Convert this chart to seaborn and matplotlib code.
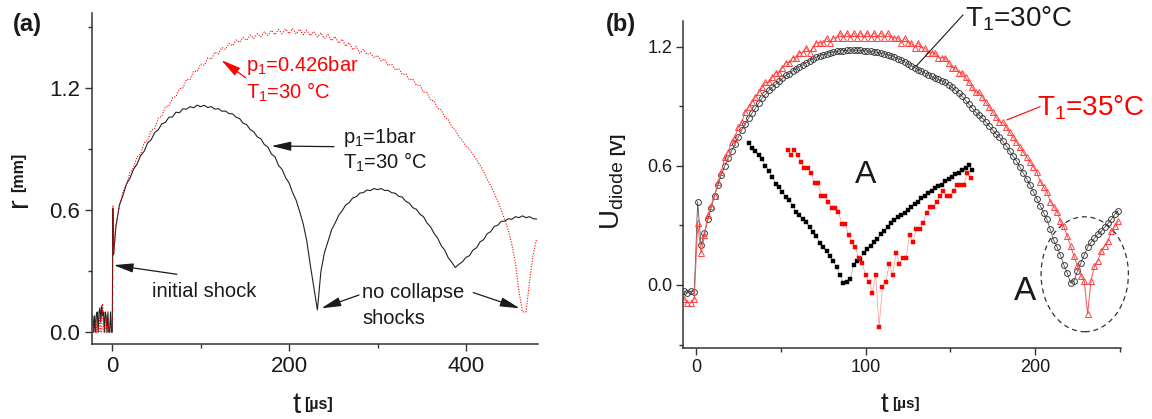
import numpy as np
import matplotlib
matplotlib.use("Agg")
import matplotlib.pyplot as plt
import seaborn as sns
from matplotlib.patches import Ellipse
from matplotlib.ticker import FormatStrFormatter

# ---------------------------------------------------------------- data
# (a) bubble radius r [mm] versus time t [us]
A_PRE_T = np.arange(-22, 0, 1.0)            # pre-trigger samples
A_PRE_BLACK = [0.08, 0.0, 0.08, 0.0, 0.09, 0.1, 0.0, 0.1, 0.12, 0.05, 0.13,
               0.08, 0.1, 0.0, 0.1, 0.08, 0.0, 0.1, 0.0, 0.0, 0.1, 0.0]
A_PRE_RED = [0.07, 0.0, 0.0, 0.05, 0.0, 0.06, 0.0, 0.0, 0.09, 0.0, 0.0,
             0.14, 0.06, 0.0, 0.0, 0.07, 0.0, 0.0, 0.05, 0.0, 0.0, 0.0]
A_SHOCK_T_BLACK = [0.0, 0.6, 1.5]
A_SHOCK_BLACK = [0.0, 0.61, 0.38]
A_SHOCK_T_RED = [0.2, 0.8, 1.6]
A_SHOCK_RED = [0.10, 0.62, 0.40]
A_T = np.arange(4, 481, 4.0)
A_BLACK = [
    0.515, 0.625, 0.672, 0.728, 0.757, 0.801, 0.826, 0.868, 0.889, 0.93,
    0.946, 0.981, 0.995, 1.024, 1.031, 1.056, 1.058, 1.081, 1.079, 1.098,
    1.096, 1.108, 1.103, 1.116, 1.108, 1.115, 1.104, 1.109, 1.096, 1.099,
    1.086, 1.087, 1.074, 1.073, 1.057, 1.05, 1.027, 1.02, 0.996, 0.985,
    0.96, 0.951, 0.922, 0.91, 0.876, 0.862, 0.82, 0.80, 0.76, 0.733,
    0.686, 0.648, 0.592, 0.532, 0.448, 0.33, 0.22, 0.11, 0.30, 0.392,
    0.446, 0.503, 0.536, 0.574, 0.597, 0.625, 0.637, 0.66, 0.666, 0.684,
    0.686, 0.699, 0.696, 0.706, 0.701, 0.706, 0.697, 0.697, 0.686, 0.683,
    0.668, 0.664, 0.643, 0.634, 0.612, 0.604, 0.58, 0.568, 0.537, 0.518,
    0.486, 0.463, 0.426, 0.404, 0.366, 0.344, 0.318, 0.334, 0.346, 0.368,
    0.376, 0.404, 0.415, 0.444, 0.455, 0.484, 0.494, 0.52, 0.526, 0.545,
    0.546, 0.558, 0.555, 0.568, 0.563, 0.572, 0.563, 0.568, 0.558, 0.556,
]
A_RED = [
    0.53, 0.615, 0.69, 0.725, 0.785, 0.808, 0.862, 0.876, 0.931, 0.942,
    0.992, 1.0, 1.052, 1.061, 1.108, 1.112, 1.152, 1.158, 1.196, 1.201,
    1.243, 1.241, 1.283, 1.281, 1.318, 1.312, 1.347, 1.341, 1.376, 1.368,
    1.399, 1.39, 1.42, 1.408, 1.436, 1.425, 1.449, 1.434, 1.46, 1.443,
    1.467, 1.451, 1.476, 1.458, 1.483, 1.462, 1.488, 1.466, 1.49, 1.467,
    1.492, 1.465, 1.489, 1.462, 1.484, 1.457, 1.478, 1.45, 1.471, 1.443,
    1.463, 1.432, 1.453, 1.42, 1.44, 1.405, 1.423, 1.388, 1.405, 1.37,
    1.39, 1.365, 1.372, 1.35, 1.36, 1.333, 1.342, 1.31, 1.317, 1.289,
    1.296, 1.266, 1.27, 1.24, 1.244, 1.213, 1.215, 1.18, 1.177, 1.14,
    1.137, 1.1, 1.093, 1.058, 1.046, 1.01, 0.994, 0.96, 0.942, 0.915,
    0.9, 0.875, 0.848, 0.82, 0.79, 0.752, 0.72, 0.684, 0.645, 0.60,
    0.552, 0.5, 0.43, 0.34, 0.2, 0.1, 0.1, 0.25, 0.38, 0.46,
]

# (b) photodiode signal U_diode [V] versus time t [us]
B_T = np.arange(-7, 250, 2.0)
B_30C = [
    -0.03, -0.04, -0.03, -0.035, 0.42, 0.20, 0.26, 0.33, 0.39, 0.45,
    0.505, 0.555, 0.60, 0.64, 0.675, 0.71, 0.745, 0.78, 0.81, 0.84,
    0.865, 0.89, 0.915, 0.94, 0.96, 0.98, 0.995, 1.01, 1.025, 1.04,
    1.055, 1.065, 1.078, 1.09, 1.10, 1.11, 1.12, 1.13, 1.14, 1.148,
    1.155, 1.16, 1.165, 1.17, 1.173, 1.176, 1.178, 1.18, 1.182, 1.183,
    1.183, 1.182, 1.181, 1.18, 1.178, 1.176, 1.174, 1.171, 1.168, 1.164,
    1.16, 1.155, 1.148, 1.14, 1.133, 1.125, 1.115, 1.105, 1.095, 1.085,
    1.077, 1.068, 1.06, 1.05, 1.042, 1.035, 1.028, 1.02, 1.008, 0.995,
    0.98, 0.965, 0.95, 0.93, 0.91, 0.89, 0.87, 0.855, 0.84, 0.82,
    0.80, 0.78, 0.76, 0.745, 0.725, 0.70, 0.675, 0.65, 0.625, 0.595,
    0.565, 0.535, 0.505, 0.47, 0.435, 0.40, 0.365, 0.33, 0.28, 0.225,
    0.19, 0.15, 0.10, 0.06, 0.01, 0.02, 0.07, 0.11, 0.15, 0.19,
    0.215, 0.235, 0.255, 0.27, 0.29, 0.31, 0.33, 0.355, 0.375,
]
B_35C = [
    -0.07, -0.09, -0.09, -0.07, 0.31, 0.16, 0.25, 0.35, 0.40, 0.45,
    0.52, 0.57, 0.645, 0.67, 0.72, 0.745, 0.795, 0.82, 0.87, 0.895,
    0.92, 0.945, 0.97, 0.995, 1.02, 1.02, 1.045, 1.07, 1.07, 1.095,
    1.12, 1.12, 1.145, 1.145, 1.17, 1.17, 1.195, 1.17, 1.195, 1.22,
    1.22, 1.22, 1.245, 1.22, 1.245, 1.245, 1.27, 1.245, 1.27, 1.245,
    1.27, 1.245, 1.27, 1.245, 1.27, 1.245, 1.27, 1.245, 1.27, 1.245,
    1.27, 1.245, 1.245, 1.245, 1.22, 1.245, 1.22, 1.22, 1.195, 1.22,
    1.195, 1.195, 1.17, 1.17, 1.17, 1.145, 1.145, 1.145, 1.12, 1.095,
    1.095, 1.07, 1.07, 1.045, 1.02, 0.995, 0.97, 0.97, 0.945, 0.92,
    0.895, 0.87, 0.845, 0.82, 0.82, 0.795, 0.77, 0.745, 0.72, 0.695,
    0.67, 0.645, 0.62, 0.595, 0.57, 0.52, 0.495, 0.47, 0.42, 0.395,
    0.37, 0.32, 0.295, 0.245, 0.195, 0.145, 0.095, 0.045, 0.02, -0.145,
    0.02, 0.095, 0.12, 0.17, 0.195, 0.22, 0.27, 0.295, 0.32,
]
# enlarged view "A" of the collapse region, drawn inside panel (b)
ZOOM_T_30C = np.arange(31, 164, 2.0)
ZOOM_30C = [
    0.713, 0.69, 0.675, 0.655, 0.635, 0.60, 0.575, 0.545, 0.51, 0.495,
    0.47, 0.445, 0.43, 0.40, 0.37, 0.35, 0.33, 0.315, 0.29, 0.265,
    0.245, 0.21, 0.19, 0.17, 0.145, 0.12, 0.09, 0.05, 0.01, 0.015,
    0.03, 0.10, 0.12, 0.13, 0.16, 0.18, 0.195, 0.215, 0.23, 0.255,
    0.27, 0.29, 0.31, 0.325, 0.34, 0.35, 0.365, 0.38, 0.395, 0.41,
    0.42, 0.44, 0.45, 0.465, 0.475, 0.49, 0.50, 0.505, 0.525, 0.535,
    0.545, 0.56, 0.565, 0.58, 0.59, 0.605, 0.58,
]
ZOOM_T_35C = np.arange(54, 163, 2.0)
ZOOM_35C = [
    0.68, 0.655, 0.68, 0.655, 0.62, 0.587, 0.587, 0.562, 0.512, 0.512,
    0.448, 0.448, 0.42, 0.39, 0.39, 0.37, 0.307, 0.307, 0.252, 0.218,
    0.193, 0.134, 0.109, 0.05, 0.017, -0.039, 0.05, -0.21, -0.008, 0.017,
    0.106, 0.05, 0.163, 0.106, 0.138, 0.138, 0.252, 0.218, 0.28, 0.28,
    0.311, 0.364, 0.391, 0.391, 0.42, 0.448, 0.475, 0.448, 0.448, 0.475,
    0.504, 0.504, 0.504, 0.562, 0.537,
]

for tt, vv in [(A_PRE_T, A_PRE_BLACK), (A_PRE_T, A_PRE_RED), (A_T, A_BLACK),
               (A_T, A_RED), (B_T, B_30C), (B_T, B_35C),
               (ZOOM_T_30C, ZOOM_30C), (ZOOM_T_35C, ZOOM_35C)]:
    assert len(tt) == len(vv), (len(tt), len(vv))

# ---------------------------------------------------------------- style
sns.set_theme(style="ticks")
plt.rcParams["font.family"] = ["Liberation Sans", "DejaVu Sans"]
plt.rcParams["mathtext.fontset"] = "custom"
plt.rcParams["mathtext.rm"] = "Liberation Sans"
plt.rcParams["mathtext.it"] = "Liberation Sans:italic"
plt.rcParams["mathtext.bf"] = "Liberation Sans:bold"
plt.rcParams["mathtext.default"] = "regular"

RED = "#ff0000"
INK = "#1a1a1a"

fig = plt.figure(figsize=(11.52, 4.19), dpi=100)
fig.patch.set_facecolor("white")
axA = fig.add_axes([0.0796, 0.1783, 0.3870, 0.7914])
axB = fig.add_axes([0.5931, 0.1687, 0.3800, 0.7819])


def trace(ax, t, y, **kw):
    sns.lineplot(x=np.asarray(t, float), y=np.asarray(y, float), ax=ax,
                 sort=False, estimator=None, errorbar=None, legend=False, **kw)


def style_axes(ax, labelsize, pad):
    sns.despine(ax=ax)
    for s in ("left", "bottom"):
        ax.spines[s].set_color("#333333")
        ax.spines[s].set_linewidth(1.1)
    ax.tick_params(which="major", direction="out", length=5, width=1.0,
                   color="#333333", labelsize=labelsize, pad=pad,
                   labelcolor=INK)
    ax.tick_params(which="minor", direction="out", length=3, width=1.0,
                   color="#333333")
    ax.set_xlabel("")
    ax.set_ylabel("")
    ax.yaxis.set_major_formatter(FormatStrFormatter("%.1f"))


def xlabel(ax, x, y, main, unit, size_main, size_unit):
    t1 = ax.text(x, y, main, transform=ax.transAxes, ha="right",
                 va="baseline", fontsize=size_main, color=INK)
    ax.annotate(unit, xy=(1, 0), xycoords=t1, xytext=(3, 5),
                textcoords="offset points", ha="left", va="bottom",
                fontsize=size_unit, fontweight="bold", color=INK)


def ylabel(ax, x, y, main, unit, size_main, size_unit, shift):
    t1 = ax.text(x, y, main, transform=ax.transAxes, rotation=90,
                 rotation_mode="anchor", ha="left", va="baseline",
                 fontsize=size_main, color=INK)
    ax.annotate(unit, xy=(1, 1), xycoords=t1, xytext=(shift, 4),
                textcoords="offset points", rotation=90, ha="right",
                va="bottom", fontsize=size_unit, fontweight="bold", color=INK)


# ---------------------------------------------------------------- panel (a)
black_t = np.concatenate([A_PRE_T, A_SHOCK_T_BLACK, A_T])
black_r = np.concatenate([A_PRE_BLACK, A_SHOCK_BLACK, A_BLACK])
red_t = np.concatenate([A_PRE_T, A_SHOCK_T_RED, A_T])
red_r = np.concatenate([A_PRE_RED, A_SHOCK_RED, A_RED])

trace(axA, black_t, black_r, color="#222222", linewidth=0.8)
trace(axA, red_t, red_r, color=RED, linewidth=0.8, linestyle=(0, (1, 1.4)))

axA.set_xlim(-23.3, 481)
axA.set_ylim(-0.059, 1.57)
axA.set_xticks([0, 200, 400])
axA.set_xticks([100, 300], minor=True)
axA.set_yticks([0.0, 0.6, 1.2])
axA.set_yticks([0.3, 0.9, 1.5], minor=True)
style_axes(axA, 16, 3.5)

arrow_k = dict(arrowstyle="-|>,head_length=0.85,head_width=0.2", color=INK,
               lw=0.9, shrinkA=0, shrinkB=0, mutation_scale=14)
arrow_r = dict(arrow_k, color=RED)

axA.text(151.7, 1.285, "p$_1$=0.426bar", color=RED, fontsize=14.5,
         ha="left", va="baseline")
axA.text(151.7, 1.146, "T$_1$=30 °C", color=RED, fontsize=14.5,
         ha="left", va="baseline")
axA.annotate("", xy=(123.4, 1.337), xytext=(151.0, 1.25), arrowprops=arrow_r)

axA.text(260.8, 0.928, "p$_1$=1bar", color=INK, fontsize=14.5,
         ha="left", va="baseline")
axA.text(260.8, 0.802, "T$_1$=30 °C", color=INK, fontsize=14.5,
         ha="left", va="baseline")
axA.annotate("", xy=(180.0, 0.915), xytext=(250.7, 0.912), arrowprops=arrow_k)

axA.text(44.7, 0.175, "initial shock", color=INK, fontsize=14.5,
         ha="left", va="baseline")
axA.annotate("", xy=(1.5, 0.33), xytext=(73.0, 0.285), arrowprops=arrow_k)

axA.text(283.0, 0.167, "no collapse", color=INK, fontsize=14.5,
         ha="left", va="baseline")
axA.text(283.0, 0.041, "shocks", color=INK, fontsize=14.5,
         ha="left", va="baseline")
axA.annotate("", xy=(236.5, 0.118), xytext=(279.0, 0.183), arrowprops=arrow_k)
axA.annotate("", xy=(460.8, 0.118), xytext=(408.3, 0.195), arrowprops=arrow_k)

xlabel(axA, 0.468, -0.207, "t", "[µs]", 21, 11.5)
ylabel(axA, -0.1456, 0.414, "r", "[mm]", 21, 11.5, -5)

# ---------------------------------------------------------------- panel (b)
trace(axB, B_T, B_30C, color="#555555", linewidth=0.6, marker="o",
      markersize=4.2, markerfacecolor="none", markeredgecolor="#3a3a3a",
      markeredgewidth=0.7)
trace(axB, B_T, B_35C, color="#ff5050", linewidth=0.7, marker="^",
      markersize=4.6, markerfacecolor="none", markeredgecolor="#ff4040",
      markeredgewidth=0.7)
trace(axB, ZOOM_T_30C, ZOOM_30C, color="#8a8a8a", linewidth=0.4, marker="s",
      markersize=3.2, markerfacecolor="#000000", markeredgecolor="#000000",
      markeredgewidth=0.3)
trace(axB, ZOOM_T_35C, ZOOM_35C, color="#ff9090", linewidth=0.5, marker="s",
      markersize=3.0, markerfacecolor=RED, markeredgecolor=RED,
      markeredgewidth=0.3)

axB.set_xlim(-7.5, 250.7)
axB.set_ylim(-0.319, 1.331)
axB.set_xticks([0, 100, 200])
axB.set_xticks([50, 150, 250], minor=True)
axB.set_yticks([0.0, 0.6, 1.2])
axB.set_yticks([-0.3, 0.3, 0.9], minor=True)
style_axes(axB, 13, 3)

axB.text(158.6, 1.30, "T$_1$=30°C", color=INK, fontsize=20,
         ha="left", va="baseline")
axB.annotate("", xy=(129.6, 1.099), xytext=(157.5, 1.36),
             arrowprops=dict(arrowstyle="-", color=INK, lw=0.8,
                             shrinkA=0, shrinkB=0))
axB.text(201.0, 0.856, "T$_1$=35°C", color=RED, fontsize=20,
         ha="left", va="baseline")
axB.annotate("", xy=(183.3, 0.831), xytext=(203.0, 0.898),
             arrowprops=dict(arrowstyle="-", color=RED, lw=0.8,
                             shrinkA=0, shrinkB=0))

axB.text(100.2, 0.512, "A", color=INK, fontsize=23, ha="center",
         va="baseline")
axB.text(193.9, -0.0755, "A", color=INK, fontsize=24, ha="center",
         va="baseline")
axB.add_patch(Ellipse((229.3, 0.054), width=51.5, height=0.579, fill=False,
                      edgecolor="#333333", linewidth=0.9,
                      linestyle=(0, (4, 3)), clip_on=False))

xlabel(axB, 0.468, -0.194, "t", "[µs]", 20, 11)
ylabel(axB, -0.1446, 0.361, "U$_{diode}$", "[V]", 20, 12, -1)

fig.text(12.5 / 1152, 1 - 25 / 419, "(a)", fontsize=17, fontweight="bold",
         ha="left", va="center", color=INK)
fig.text(605.5 / 1152, 1 - 25 / 419, "(b)", fontsize=17, fontweight="bold",
         ha="left", va="center", color=INK)

fig.savefig("out.png", dpi=100, facecolor="white")
